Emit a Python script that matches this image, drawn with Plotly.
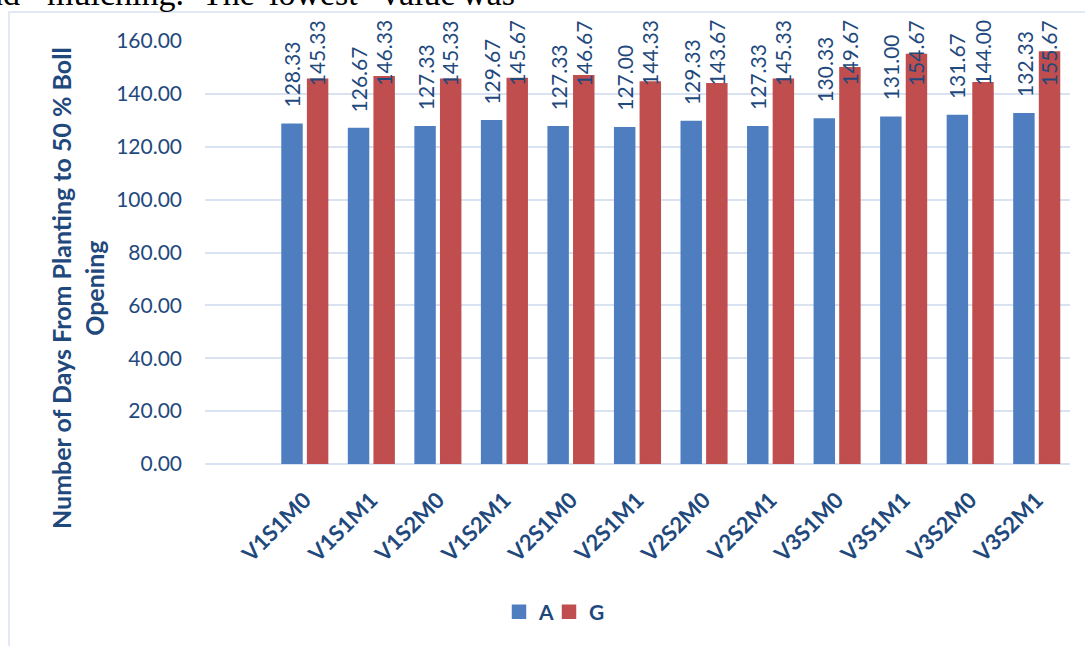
import plotly.graph_objects as go

categories = ["V1S1M0", "V1S1M1", "V1S2M0", "V1S2M1", "V2S1M0", "V2S1M1",
              "V2S2M0", "V2S2M1", "V3S1M0", "V3S1M1", "V3S2M0", "V3S2M1"]
series_a = [128.33, 126.67, 127.33, 129.67, 127.33, 127.00,
            129.33, 127.33, 130.33, 131.00, 131.67, 132.33]
series_g = [145.33, 146.33, 145.33, 145.67, 146.67, 144.33,
            143.67, 145.33, 149.67, 154.67, 144.00, 155.67]
y_ticks = [0, 20, 40, 60, 80, 100, 120, 140, 160]
y_title_lines = ["Number of Days From Planting to 50 % Boll", "Opening"]
top_words = ["nd", "mulching.", "The", "lowest", "value", "was"]

W, H = 1085, 646
L, R, T, B = 205, 15, 41, 182
PW, PH = W - L - R, H - T - B
YMAX = 160.0

def px_x(p):
    return (p - L) / PW

def px_y(p):
    return (H - B - p) / PH

TXT = "#1F497D"
BLUE = "#4F7EC0"
RED = "#C04E4E"
GRID = "#D9E2F1"

fig = go.Figure()
fig.add_trace(go.Bar(name="A", x=categories, y=series_a, marker_color=BLUE,
                     marker_line=dict(width=2.5, color=BLUE), legend="legend"))
fig.add_trace(go.Bar(name="G", x=categories, y=series_g, marker_color=RED,
                     marker_line=dict(width=2.5, color=RED), legend="legend2"))

annotations = []
ppu = PH / YMAX
cap = 143.0
for i, cat in enumerate(categories):
    for vals, shift in ((series_a, -13), (series_g, 12.5)):
        v = vals[i]
        ylab = min(v + 17 / ppu, cap)
        annotations.append(dict(x=cat, y=ylab / YMAX, xref="x", yref="paper",
                                text=f"{v:.2f}", textangle=-90, showarrow=False,
                                xanchor="center", yanchor="middle", xshift=shift,
                                yshift=33,
                                font=dict(family="Lato", size=21, color=TXT),
                                borderpad=0))

annotations.append(dict(x=px_x(77), y=px_y(288), xref="paper", yref="paper",
                        text="<b>" + "<br>".join(y_title_lines) + "</b>",
                        textangle=-90, showarrow=False,
                        xanchor="center", yanchor="middle",
                        font=dict(family="Lato", size=25, color=TXT)))

word_x = [22, 45, 200, 267, 380, 460]
for wx, wtxt in zip(word_x, top_words):
    annotations.append(dict(x=px_x(wx), y=px_y(-6), xref="paper", yref="paper",
                            text=wtxt, showarrow=False,
                            xanchor="right" if wtxt == "nd" else "left",
                            yanchor="middle",
                            font=dict(family="Liberation Serif", size=34, color="#000000")))

leg_common = dict(orientation="h", yanchor="middle", xanchor="left",
                  font=dict(family="Lato", size=21, color=TXT, weight="bold"),
                  itemwidth=30, bgcolor="rgba(0,0,0,0)")

fig.update_layout(
    width=W, height=H,
    margin=dict(l=L, r=R, t=T, b=B, pad=0),
    paper_bgcolor="white", plot_bgcolor="white",
    barmode="group", bargap=0.23, bargroupgap=0.26,
    showlegend=True,
    legend=dict(x=px_x(499), y=px_y(612), **leg_common),
    legend2=dict(x=px_x(549), y=px_y(612), **leg_common),
    annotations=annotations,
    shapes=[dict(type="rect", xref="paper", yref="paper",
                 x0=px_x(9), x1=px_x(W + 20), y0=px_y(H + 20), y1=px_y(12),
                 line=dict(color=GRID, width=1.5), layer="below")],
    font=dict(family="Lato", color=TXT),
)
fig.update_xaxes(range=[-1.5, 11.5], tickangle=-45, showgrid=False,
                 showline=False, zeroline=False, ticks="",
                 ticklabelstandoff=18,
                 tickfont=dict(family="Lato", size=22, color=TXT, weight="bold"))
fig.update_yaxes(range=[0, YMAX], tickvals=y_ticks,
                 ticktext=[f"{t:.2f}" for t in y_ticks],
                 showgrid=True, gridcolor=GRID, gridwidth=2,
                 zeroline=True, zerolinecolor=GRID, zerolinewidth=2,
                 showline=False, ticks="", ticklabelstandoff=22,
                 tickfont=dict(family="Lato", size=21, color=TXT))

fig.write_html("out.html")
